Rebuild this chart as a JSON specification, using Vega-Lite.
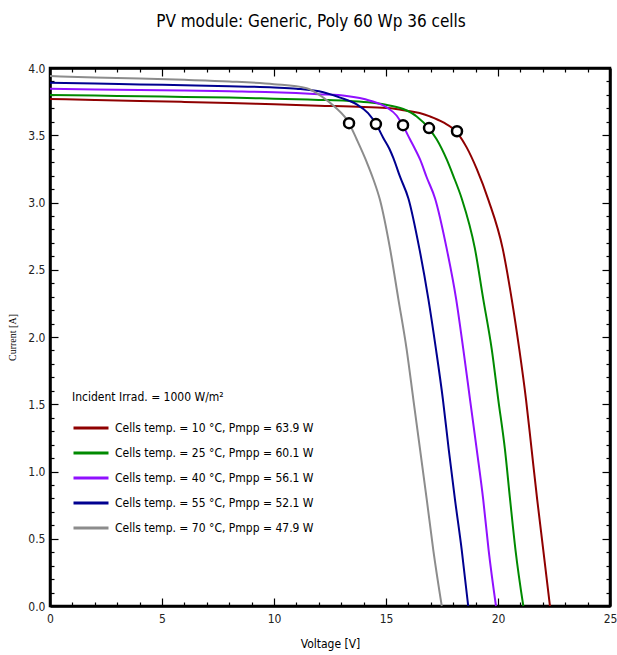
{
  "$schema": "https://vega.github.io/schema/vega-lite/v6.json",
  "autosize": "none",
  "width": 560,
  "height": 538,
  "padding": {"left": 50, "top": 68, "right": 7, "bottom": 49},
  "background": "white",
  "title": {
    "text": "PV module:  Generic,  Poly 60 Wp  36 cells",
    "font": "DejaVu Sans Condensed, Liberation Sans, sans-serif",
    "fontSize": 17,
    "fontWeight": "normal",
    "color": "black",
    "anchor": "middle",
    "dx": -19,
    "offset": 31
  },
  "config": {
    "view": {"stroke": "black", "strokeWidth": 2.5},
    "axis": {
      "grid": false,
      "domainColor": "black",
      "domainWidth": 2.5,
      "tickColor": "black",
      "tickWidth": 1.2,
      "labelFont": "DejaVu Sans Condensed, Liberation Sans, sans-serif",
      "labelFontSize": 12,
      "labelColor": "#222",
      "titleColor": "black",
      "titleFontWeight": "normal"
    }
  },
  "datasets": {
    "curves": [
      {"s": "Cells temp. = 10 °C,  Pmpp = 63.9 W", "V": 0, "I": 3.77},
      {"s": "Cells temp. = 10 °C,  Pmpp = 63.9 W", "V": 2, "I": 3.762},
      {"s": "Cells temp. = 10 °C,  Pmpp = 63.9 W", "V": 4, "I": 3.755},
      {"s": "Cells temp. = 10 °C,  Pmpp = 63.9 W", "V": 6, "I": 3.748},
      {"s": "Cells temp. = 10 °C,  Pmpp = 63.9 W", "V": 8, "I": 3.74},
      {"s": "Cells temp. = 10 °C,  Pmpp = 63.9 W", "V": 10, "I": 3.73},
      {"s": "Cells temp. = 10 °C,  Pmpp = 63.9 W", "V": 12, "I": 3.72},
      {"s": "Cells temp. = 10 °C,  Pmpp = 63.9 W", "V": 14, "I": 3.71},
      {"s": "Cells temp. = 10 °C,  Pmpp = 63.9 W", "V": 15.2, "I": 3.7},
      {"s": "Cells temp. = 10 °C,  Pmpp = 63.9 W", "V": 15.92, "I": 3.682},
      {"s": "Cells temp. = 10 °C,  Pmpp = 63.9 W", "V": 16.5, "I": 3.665},
      {"s": "Cells temp. = 10 °C,  Pmpp = 63.9 W", "V": 16.96, "I": 3.64},
      {"s": "Cells temp. = 10 °C,  Pmpp = 63.9 W", "V": 17.56, "I": 3.595},
      {"s": "Cells temp. = 10 °C,  Pmpp = 63.9 W", "V": 18.17, "I": 3.52},
      {"s": "Cells temp. = 10 °C,  Pmpp = 63.9 W", "V": 18.6, "I": 3.41},
      {"s": "Cells temp. = 10 °C,  Pmpp = 63.9 W", "V": 19.05, "I": 3.25},
      {"s": "Cells temp. = 10 °C,  Pmpp = 63.9 W", "V": 19.57, "I": 3.02},
      {"s": "Cells temp. = 10 °C,  Pmpp = 63.9 W", "V": 20.21, "I": 2.657},
      {"s": "Cells temp. = 10 °C,  Pmpp = 63.9 W", "V": 20.61, "I": 2.284},
      {"s": "Cells temp. = 10 °C,  Pmpp = 63.9 W", "V": 20.95, "I": 1.91},
      {"s": "Cells temp. = 10 °C,  Pmpp = 63.9 W", "V": 21.25, "I": 1.537},
      {"s": "Cells temp. = 10 °C,  Pmpp = 63.9 W", "V": 21.5, "I": 1.164},
      {"s": "Cells temp. = 10 °C,  Pmpp = 63.9 W", "V": 21.75, "I": 0.791},
      {"s": "Cells temp. = 10 °C,  Pmpp = 63.9 W", "V": 22.02, "I": 0.418},
      {"s": "Cells temp. = 10 °C,  Pmpp = 63.9 W", "V": 22.32, "I": 0},
      {"s": "Cells temp. = 25 °C,  Pmpp = 60.1 W", "V": 0, "I": 3.8},
      {"s": "Cells temp. = 25 °C,  Pmpp = 60.1 W", "V": 2, "I": 3.795},
      {"s": "Cells temp. = 25 °C,  Pmpp = 60.1 W", "V": 4, "I": 3.79},
      {"s": "Cells temp. = 25 °C,  Pmpp = 60.1 W", "V": 6, "I": 3.785},
      {"s": "Cells temp. = 25 °C,  Pmpp = 60.1 W", "V": 8, "I": 3.78},
      {"s": "Cells temp. = 25 °C,  Pmpp = 60.1 W", "V": 10, "I": 3.772},
      {"s": "Cells temp. = 25 °C,  Pmpp = 60.1 W", "V": 12, "I": 3.763},
      {"s": "Cells temp. = 25 °C,  Pmpp = 60.1 W", "V": 13.24, "I": 3.757},
      {"s": "Cells temp. = 25 °C,  Pmpp = 60.1 W", "V": 14.2, "I": 3.745},
      {"s": "Cells temp. = 25 °C,  Pmpp = 60.1 W", "V": 14.88, "I": 3.73},
      {"s": "Cells temp. = 25 °C,  Pmpp = 60.1 W", "V": 15.77, "I": 3.695},
      {"s": "Cells temp. = 25 °C,  Pmpp = 60.1 W", "V": 16.37, "I": 3.64},
      {"s": "Cells temp. = 25 °C,  Pmpp = 60.1 W", "V": 16.92, "I": 3.55},
      {"s": "Cells temp. = 25 °C,  Pmpp = 60.1 W", "V": 17.26, "I": 3.47},
      {"s": "Cells temp. = 25 °C,  Pmpp = 60.1 W", "V": 17.71, "I": 3.32},
      {"s": "Cells temp. = 25 °C,  Pmpp = 60.1 W", "V": 18.0, "I": 3.2},
      {"s": "Cells temp. = 25 °C,  Pmpp = 60.1 W", "V": 18.38, "I": 3.03},
      {"s": "Cells temp. = 25 °C,  Pmpp = 60.1 W", "V": 18.97, "I": 2.657},
      {"s": "Cells temp. = 25 °C,  Pmpp = 60.1 W", "V": 19.34, "I": 2.284},
      {"s": "Cells temp. = 25 °C,  Pmpp = 60.1 W", "V": 19.72, "I": 1.91},
      {"s": "Cells temp. = 25 °C,  Pmpp = 60.1 W", "V": 20.01, "I": 1.537},
      {"s": "Cells temp. = 25 °C,  Pmpp = 60.1 W", "V": 20.31, "I": 1.164},
      {"s": "Cells temp. = 25 °C,  Pmpp = 60.1 W", "V": 20.54, "I": 0.791},
      {"s": "Cells temp. = 25 °C,  Pmpp = 60.1 W", "V": 20.78, "I": 0.418},
      {"s": "Cells temp. = 25 °C,  Pmpp = 60.1 W", "V": 21.13, "I": 0},
      {"s": "Cells temp. = 40 °C,  Pmpp = 56.1 W", "V": 0, "I": 3.845},
      {"s": "Cells temp. = 40 °C,  Pmpp = 56.1 W", "V": 2, "I": 3.84},
      {"s": "Cells temp. = 40 °C,  Pmpp = 56.1 W", "V": 4, "I": 3.837},
      {"s": "Cells temp. = 40 °C,  Pmpp = 56.1 W", "V": 6, "I": 3.833},
      {"s": "Cells temp. = 40 °C,  Pmpp = 56.1 W", "V": 8, "I": 3.827},
      {"s": "Cells temp. = 40 °C,  Pmpp = 56.1 W", "V": 10, "I": 3.82},
      {"s": "Cells temp. = 40 °C,  Pmpp = 56.1 W", "V": 12, "I": 3.805},
      {"s": "Cells temp. = 40 °C,  Pmpp = 56.1 W", "V": 13.24, "I": 3.792},
      {"s": "Cells temp. = 40 °C,  Pmpp = 56.1 W", "V": 14.29, "I": 3.757},
      {"s": "Cells temp. = 40 °C,  Pmpp = 56.1 W", "V": 15.03, "I": 3.707},
      {"s": "Cells temp. = 40 °C,  Pmpp = 56.1 W", "V": 15.48, "I": 3.645},
      {"s": "Cells temp. = 40 °C,  Pmpp = 56.1 W", "V": 15.76, "I": 3.57},
      {"s": "Cells temp. = 40 °C,  Pmpp = 56.1 W", "V": 16.07, "I": 3.47},
      {"s": "Cells temp. = 40 °C,  Pmpp = 56.1 W", "V": 16.29, "I": 3.4},
      {"s": "Cells temp. = 40 °C,  Pmpp = 56.1 W", "V": 16.52, "I": 3.32},
      {"s": "Cells temp. = 40 °C,  Pmpp = 56.1 W", "V": 16.82, "I": 3.186},
      {"s": "Cells temp. = 40 °C,  Pmpp = 56.1 W", "V": 17.19, "I": 3.03},
      {"s": "Cells temp. = 40 °C,  Pmpp = 56.1 W", "V": 17.71, "I": 2.657},
      {"s": "Cells temp. = 40 °C,  Pmpp = 56.1 W", "V": 18.13, "I": 2.284},
      {"s": "Cells temp. = 40 °C,  Pmpp = 56.1 W", "V": 18.45, "I": 1.91},
      {"s": "Cells temp. = 40 °C,  Pmpp = 56.1 W", "V": 18.75, "I": 1.537},
      {"s": "Cells temp. = 40 °C,  Pmpp = 56.1 W", "V": 19.05, "I": 1.164},
      {"s": "Cells temp. = 40 °C,  Pmpp = 56.1 W", "V": 19.34, "I": 0.791},
      {"s": "Cells temp. = 40 °C,  Pmpp = 56.1 W", "V": 19.58, "I": 0.418},
      {"s": "Cells temp. = 40 °C,  Pmpp = 56.1 W", "V": 19.91, "I": 0},
      {"s": "Cells temp. = 55 °C,  Pmpp = 52.1 W", "V": 0, "I": 3.89},
      {"s": "Cells temp. = 55 °C,  Pmpp = 52.1 W", "V": 2, "I": 3.885},
      {"s": "Cells temp. = 55 °C,  Pmpp = 52.1 W", "V": 4, "I": 3.878},
      {"s": "Cells temp. = 55 °C,  Pmpp = 52.1 W", "V": 6, "I": 3.872},
      {"s": "Cells temp. = 55 °C,  Pmpp = 52.1 W", "V": 8, "I": 3.865},
      {"s": "Cells temp. = 55 °C,  Pmpp = 52.1 W", "V": 10, "I": 3.855},
      {"s": "Cells temp. = 55 °C,  Pmpp = 52.1 W", "V": 11, "I": 3.846},
      {"s": "Cells temp. = 55 °C,  Pmpp = 52.1 W", "V": 12.2, "I": 3.82},
      {"s": "Cells temp. = 55 °C,  Pmpp = 52.1 W", "V": 12.95, "I": 3.78},
      {"s": "Cells temp. = 55 °C,  Pmpp = 52.1 W", "V": 13.69, "I": 3.73},
      {"s": "Cells temp. = 55 °C,  Pmpp = 52.1 W", "V": 14.2, "I": 3.665},
      {"s": "Cells temp. = 55 °C,  Pmpp = 52.1 W", "V": 14.55, "I": 3.585},
      {"s": "Cells temp. = 55 °C,  Pmpp = 52.1 W", "V": 14.88, "I": 3.48},
      {"s": "Cells temp. = 55 °C,  Pmpp = 52.1 W", "V": 15.15, "I": 3.4},
      {"s": "Cells temp. = 55 °C,  Pmpp = 52.1 W", "V": 15.33, "I": 3.33},
      {"s": "Cells temp. = 55 °C,  Pmpp = 52.1 W", "V": 15.63, "I": 3.19},
      {"s": "Cells temp. = 55 °C,  Pmpp = 52.1 W", "V": 16.0, "I": 3.03},
      {"s": "Cells temp. = 55 °C,  Pmpp = 52.1 W", "V": 16.49, "I": 2.657},
      {"s": "Cells temp. = 55 °C,  Pmpp = 52.1 W", "V": 16.89, "I": 2.284},
      {"s": "Cells temp. = 55 °C,  Pmpp = 52.1 W", "V": 17.23, "I": 1.91},
      {"s": "Cells temp. = 55 °C,  Pmpp = 52.1 W", "V": 17.54, "I": 1.537},
      {"s": "Cells temp. = 55 °C,  Pmpp = 52.1 W", "V": 17.8, "I": 1.164},
      {"s": "Cells temp. = 55 °C,  Pmpp = 52.1 W", "V": 18.08, "I": 0.791},
      {"s": "Cells temp. = 55 °C,  Pmpp = 52.1 W", "V": 18.38, "I": 0.418},
      {"s": "Cells temp. = 55 °C,  Pmpp = 52.1 W", "V": 18.67, "I": 0},
      {"s": "Cells temp. = 70 °C,  Pmpp = 47.9 W", "V": 0, "I": 3.94},
      {"s": "Cells temp. = 70 °C,  Pmpp = 47.9 W", "V": 2, "I": 3.93},
      {"s": "Cells temp. = 70 °C,  Pmpp = 47.9 W", "V": 4, "I": 3.922},
      {"s": "Cells temp. = 70 °C,  Pmpp = 47.9 W", "V": 6, "I": 3.912},
      {"s": "Cells temp. = 70 °C,  Pmpp = 47.9 W", "V": 8, "I": 3.9},
      {"s": "Cells temp. = 70 °C,  Pmpp = 47.9 W", "V": 10, "I": 3.88},
      {"s": "Cells temp. = 70 °C,  Pmpp = 47.9 W", "V": 11.46, "I": 3.85},
      {"s": "Cells temp. = 70 °C,  Pmpp = 47.9 W", "V": 12.2, "I": 3.78},
      {"s": "Cells temp. = 70 °C,  Pmpp = 47.9 W", "V": 12.72, "I": 3.71},
      {"s": "Cells temp. = 70 °C,  Pmpp = 47.9 W", "V": 13.35, "I": 3.59},
      {"s": "Cells temp. = 70 °C,  Pmpp = 47.9 W", "V": 13.69, "I": 3.47},
      {"s": "Cells temp. = 70 °C,  Pmpp = 47.9 W", "V": 14.14, "I": 3.3},
      {"s": "Cells temp. = 70 °C,  Pmpp = 47.9 W", "V": 14.43, "I": 3.175},
      {"s": "Cells temp. = 70 °C,  Pmpp = 47.9 W", "V": 14.73, "I": 3.02},
      {"s": "Cells temp. = 70 °C,  Pmpp = 47.9 W", "V": 15.18, "I": 2.657},
      {"s": "Cells temp. = 70 °C,  Pmpp = 47.9 W", "V": 15.55, "I": 2.284},
      {"s": "Cells temp. = 70 °C,  Pmpp = 47.9 W", "V": 15.92, "I": 1.91},
      {"s": "Cells temp. = 70 °C,  Pmpp = 47.9 W", "V": 16.22, "I": 1.537},
      {"s": "Cells temp. = 70 °C,  Pmpp = 47.9 W", "V": 16.52, "I": 1.164},
      {"s": "Cells temp. = 70 °C,  Pmpp = 47.9 W", "V": 16.82, "I": 0.791},
      {"s": "Cells temp. = 70 °C,  Pmpp = 47.9 W", "V": 17.11, "I": 0.418},
      {"s": "Cells temp. = 70 °C,  Pmpp = 47.9 W", "V": 17.49, "I": 0}
    ],
    "mpp": [
      {"V": 18.17, "I": 3.53},
      {"V": 16.92, "I": 3.553},
      {"V": 15.76, "I": 3.575},
      {"V": 14.55, "I": 3.583},
      {"V": 13.35, "I": 3.59}
    ]
  },
  "layer": [
    {
      "data": {"name": "curves"},
      "mark": {"type": "line", "strokeWidth": 2, "interpolate": "monotone"},
      "encoding": {
        "x": {
          "field": "V", "type": "quantitative",
          "scale": {"domain": [0, 25], "nice": false, "zero": false},
          "axis": {
            "orient": "bottom",
            "values": [0,1,2,3,4,5,6,7,8,9,10,11,12,13,14,15,16,17,18,19,20,21,22,23,24,25],
            "labelExpr": "datum.value % 5 === 0 ? datum.label : ''",
            "tickSize": {"condition": {"test": "datum.value % 5 === 0", "value": -8}, "value": -4},
            "labelPadding": 15,
            "labelFlush": false,
            "title": "Voltage [V]",
            "titleFont": "DejaVu Sans Condensed, Liberation Sans, sans-serif",
            "titleFontSize": 12,
            "titleY": 32,
            "titleBaseline": "top"
          }
        },
        "y": {
          "field": "I", "type": "quantitative",
          "scale": {"domain": [0, 4], "nice": false, "zero": false},
          "axis": {
            "orient": "left",
            "values": [0,0.1,0.2,0.3,0.4,0.5,0.6,0.7,0.8,0.9,1,1.1,1.2,1.3,1.4,1.5,1.6,1.7,1.8,1.9,2,2.1,2.2,2.3,2.4,2.5,2.6,2.7,2.8,2.9,3,3.1,3.2,3.3,3.4,3.5,3.6,3.7,3.8,3.9,4],
            "format": ".1f",
            "labelExpr": "round(datum.value*10) % 5 === 0 ? datum.label : ''",
            "tickSize": {"condition": {"test": "round(datum.value*10) % 5 === 0", "value": -8}, "value": -4},
            "labelPadding": 13,
            "labelFlush": false,
            "title": "Current  [A]",
            "titleFont": "Liberation Serif",
            "titleFontSize": 10,
            "titleX": -38,
            "titleY": 269,
            "titleAngle": -90,
            "titleAlign": "center",
            "titleBaseline": "middle"
          }
        },
        "color": {
          "field": "s", "type": "nominal",
          "scale": {
            "domain": ["Cells temp. = 10 °C,  Pmpp = 63.9 W", "Cells temp. = 25 °C,  Pmpp = 60.1 W", "Cells temp. = 40 °C,  Pmpp = 56.1 W", "Cells temp. = 55 °C,  Pmpp = 52.1 W", "Cells temp. = 70 °C,  Pmpp = 47.9 W"],
            "range": ["#8f0000", "#008a00", "#9010ff", "#000090", "#8c8c8c"]
          },
          "legend": {
            "orient": "none",
            "legendX": 22,
            "legendY": 324,
            "title": "Incident Irrad. = 1000 W/m²",
            "titleFont": "DejaVu Sans Condensed, Liberation Sans, sans-serif",
            "titleFontSize": 12,
            "titleFontWeight": "normal",
            "titleColor": "black",
            "titlePadding": 5,
            "symbolType": "stroke",
            "symbolSize": 1225,
            "symbolStrokeWidth": 3,
            "labelFont": "DejaVu Sans Condensed, Liberation Sans, sans-serif",
            "labelFontSize": 12,
            "labelColor": "black",
            "labelOffset": 5,
            "rowPadding": -3,
            "labelLimit": 400
          }
        }
      }
    },
    {
      "data": {"name": "mpp"},
      "mark": {"type": "point", "shape": "circle", "size": 100, "filled": true, "fill": "white", "stroke": "black", "strokeWidth": 2.5, "opacity": 1},
      "encoding": {
        "x": {
          "field": "V", "type": "quantitative",
          "axis": {
            "orient": "top",
            "values": [0,1,2,3,4,5,6,7,8,9,10,11,12,13,14,15,16,17,18,19,20,21,22,23,24,25],
            "labels": false,
            "tickSize": {"condition": {"test": "datum.value % 5 === 0", "value": -8}, "value": -4},
            "title": null
          }
        },
        "y": {
          "field": "I", "type": "quantitative",
          "axis": {
            "orient": "right",
            "values": [0,0.1,0.2,0.3,0.4,0.5,0.6,0.7,0.8,0.9,1,1.1,1.2,1.3,1.4,1.5,1.6,1.7,1.8,1.9,2,2.1,2.2,2.3,2.4,2.5,2.6,2.7,2.8,2.9,3,3.1,3.2,3.3,3.4,3.5,3.6,3.7,3.8,3.9,4],
            "labels": false,
            "tickSize": {"condition": {"test": "round(datum.value*10) % 5 === 0", "value": -8}, "value": -4},
            "title": null
          }
        }
      }
    }
  ],
  "resolve": {"axis": {"x": "independent", "y": "independent"}}
}
